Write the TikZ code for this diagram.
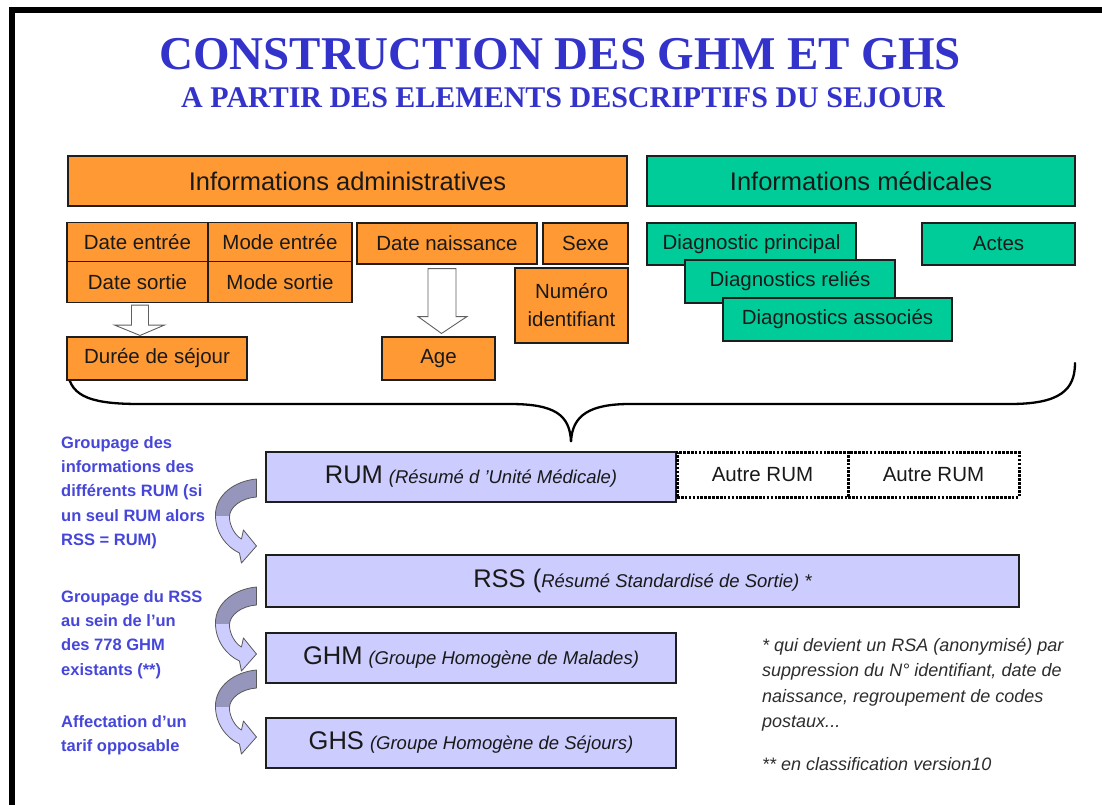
\documentclass[tikz,border=0pt]{standalone}
\usepackage{fontspec}
\setmainfont{Liberation Sans}
\newfontfamily\titlefont{Liberation Serif}
\usetikzlibrary{calc}
\definecolor{ttl}{RGB}{51,51,204}
\definecolor{blu}{RGB}{70,70,218}
\definecolor{org}{RGB}{255,153,51}
\definecolor{grn}{RGB}{0,204,153}
\definecolor{lav}{RGB}{204,204,255}
\definecolor{darklav}{RGB}{150,150,188}
\definecolor{edge}{RGB}{30,30,30}
\definecolor{notegray}{RGB}{45,45,45}
\tikzset{
  box/.style={draw=edge, line width=1.1pt, inner sep=0pt, text=black!90, align=center},
  obox/.style={box, fill=org, font=\fontsize{20.5}{28}\selectfont},
  gbox/.style={box, fill=grn, font=\fontsize{20.5}{28}\selectfont},
  hbox/.style={box, font=\fontsize{25.5}{28}\selectfont},
  lbox/.style={box, fill=lav},
  dotbox/.style={draw=black, line width=3pt, dash pattern=on 2.6pt off 1.3pt, inner sep=0pt, text=black!90, font=\fontsize{20.5}{22}\selectfont},
  hollow/.style={draw=gray!75!black, fill=white, line width=0.9pt, line join=miter},
  sidenote/.style={font=\bfseries\fontsize{16.5}{24.4}\selectfont, text=blu, align=left, inner sep=0pt, anchor=north west},
  curvarr/.pic={
    \path[save path=\carrpath] (0,0) .. controls (-22,2) and (-41,16) .. (-41,36)
      .. controls (-41,54) and (-30,68) .. (-17,74) -- (-15,84) -- (0,67) -- (-13,51) -- (-15,60)
      .. controls (-22,56) and (-27,46) .. (-27,38) .. controls (-27,28) and (-15,19) .. (0,18) -- cycle;
    \begin{scope}
      \clip (-50,-5) rectangle (5,37);
      \fill[darklav, use path=\carrpath];
    \end{scope}
    \begin{scope}
      \clip (-50,37) rectangle (5,95);
      \fill[lav, use path=\carrpath];
    \end{scope}
    \draw[draw=black!65, line width=0.8pt, line join=round, use path=\carrpath];
  }
}
\newcommand{\bigpart}[1]{{\fontsize{25.5}{28}\selectfont #1}}
\newcommand{\smallpart}[1]{{\itshape\fontsize{18.5}{20}\selectfont #1}}
\begin{document}
\begin{tikzpicture}[x=1pt,y=-1pt]
\useasboundingbox (0,0) rectangle (1102,805);
\fill[white] (0,0) rectangle (1102,805);
% frame
\draw[line width=6pt, line join=miter] (12,830) -- (12,10) -- (1120,10);

% titles
\node[font=\titlefont\bfseries\fontsize{47}{50}\selectfont, text=ttl, anchor=base, inner sep=0pt] (title) at (560,70) {CONSTRUCTION DES GHM ET GHS};
\node[font=\titlefont\bfseries\fontsize{30}{32}\selectfont, text=ttl, anchor=base, inner sep=0pt] (subtitle) at (563,108) {A PARTIR DES ELEMENTS DESCRIPTIFS DU SEJOUR};

% brace
\coordinate (bl) at (68,372);
\coordinate (bt) at (571,442);
\coordinate (br) at (1075,363);
\draw[line width=2.3pt, line cap=round] (bl) .. controls (70,398) and (95,404) .. (140,404) -- (510,404)
  .. controls (555,404) and (570,415) .. (bt)
  .. controls (572,415) and (590,404) .. (630,404) -- (1010,404)
  .. controls (1060,404) and (1075,390) .. (br);

% header boxes
\node[hbox, fill=org, minimum width=559pt, minimum height=50pt] (adm) at (347.5,181) {Informations administratives};
\node[hbox, fill=grn, minimum width=428pt, minimum height=50pt] (med) at (861,181) {Informations médicales};

% administrative items
\node[obox, minimum width=141pt, minimum height=39pt] (de) at (137.5,242) {Date entrée};
\node[obox, minimum width=144pt, minimum height=39pt] (me) at (280,242) {Mode entrée};
\node[obox, minimum width=141pt, minimum height=41pt] (ds) at (137.5,282) {Date sortie};
\node[obox, minimum width=144pt, minimum height=41pt] (ms) at (280,282) {Mode sortie};
\node[obox, minimum width=180pt, minimum height=41pt] (dn) at (447,243.5) {Date naissance};
\node[obox, minimum width=85pt, minimum height=41pt] (sexe) at (585.5,243.5) {Sexe};
\node[obox, minimum width=113pt, minimum height=75pt] (num) at (571.5,305.5) {Numéro\\identifiant};
\node[obox, minimum width=180pt, minimum height=43pt] (duree) at (157,358.5) {Durée de séjour};
\node[obox, minimum width=113pt, minimum height=43pt] (age) at (438.5,358.5) {Age};

% hollow arrows
\draw[hollow] ($(ds.south)+(-6,2)$) -- ($(ds.south)+(11,2)$) -- ($(ds.south)+(11,22)$) -- ($(ds.south)+(27,22)$)
  -- ($(duree.north)+(-17,-1)$) -- ($(ds.south)+(-23,22)$) -- ($(ds.south)+(-6,22)$) -- cycle;
\draw[hollow] ($(dn.south)+(-19,4)$) -- ($(dn.south)+(9,4)$) -- ($(dn.south)+(9,52)$) -- ($(dn.south)+(20,52)$)
  -- ($(age.north)+(3,-3)$) -- ($(dn.south)+(-29,52)$) -- ($(dn.south)+(-19,52)$) -- cycle;

% medical items
\node[gbox, minimum width=209pt, minimum height=42pt] (dp) at (751.5,244) {Diagnostic principal};
\node[gbox, minimum width=153pt, minimum height=42pt] (actes) at (998.5,244) {Actes};
\node[gbox, minimum width=210pt, minimum height=43pt] (dr) at (790,281.5) {Diagnostics reliés};
\node[gbox, minimum width=229pt, minimum height=43pt] (da) at (837.5,319.5) {Diagnostics associés};

% summary boxes
\node[lbox, minimum width=410pt, minimum height=50pt] (rum) at (471,477)
  {\bigpart{RUM}\hspace{6pt}\smallpart{(Résumé d ’Unité Médicale)}};
\node[dotbox, minimum width=171pt, minimum height=45pt] (autre1) at (762.5,474.5) {Autre RUM};
\node[dotbox, minimum width=171pt, minimum height=45pt] (autre2) at (933.5,474.5) {Autre RUM};
\node[lbox, minimum width=753pt, minimum height=52pt] (rss) at (642.5,581)
  {\bigpart{RSS (}\smallpart{Résumé Standardisé de Sortie) *}};
\node[lbox, minimum width=410pt, minimum height=50pt] (ghm) at (471,658)
  {\bigpart{GHM}\hspace{6pt}\smallpart{(Groupe Homogène de Malades)}};
\node[lbox, minimum width=410pt, minimum height=50pt] (ghs) at (471,743)
  {\bigpart{GHS}\hspace{6pt}\smallpart{(Groupe Homogène de Séjours)}};

% curved arrows
\pic at ($(rum.west)+(-9,2)$) {curvarr};
\pic at ($(rss.west)+(-9,6)$) {curvarr};
\pic at ($(ghm.west)+(-9,12)$) {curvarr};

% side notes
\node[sidenote] (n1) at (61,436) {Groupage des\\informations des\\différents RUM (si\\un seul RUM alors\\RSS = RUM)};
\node[sidenote] (n2) at (61,590) {Groupage du RSS\\au sein de l’un\\des 778 GHM\\existants (**)};
\node[sidenote] (n3) at (61,715) {Affectation d’un\\tarif opposable};

% footnotes
\node[font=\itshape\fontsize{18}{25.3}\selectfont, text=notegray, align=left, anchor=north west, inner sep=0pt] (fn1) at (762,638)
  {* qui devient un RSA (anonymisé) par\\suppression du N° identifiant, date de\\naissance, regroupement de codes\\postaux...};
\node[font=\itshape\fontsize{18}{22}\selectfont, text=notegray, anchor=base west, inner sep=0pt] (fn2) at (762,770) {** en classification version10};
\end{tikzpicture}
\end{document}
